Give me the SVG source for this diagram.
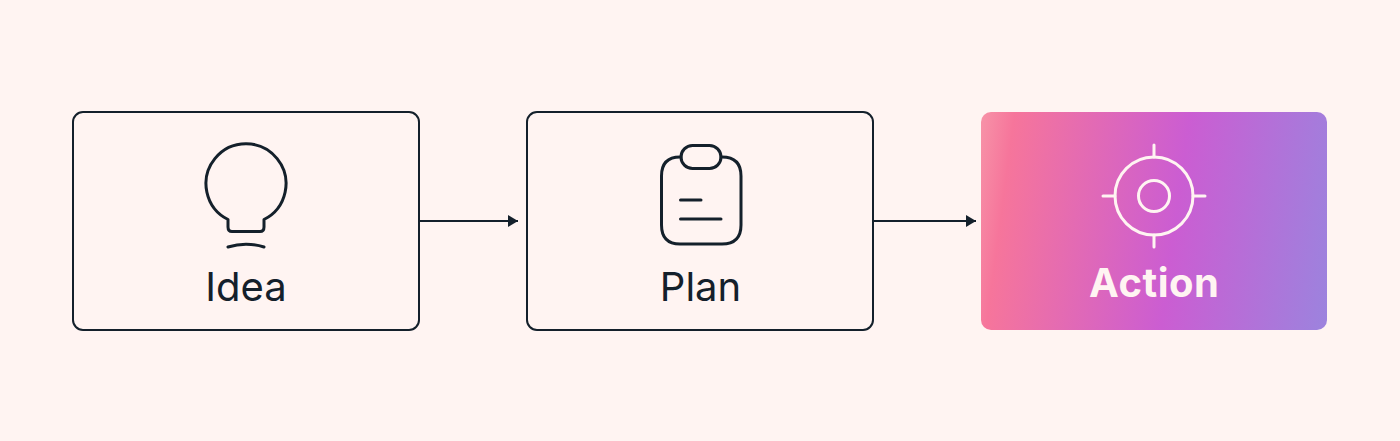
<svg xmlns="http://www.w3.org/2000/svg" width="1400" height="441" viewBox="0 0 1400 441">
<style>
.box{fill:#fff4f2;stroke:#14202b;stroke-width:2}
.ink{fill:none;stroke:#14202b;stroke-width:3;stroke-linecap:round;stroke-linejoin:round}
.lite{fill:none;stroke:#fff4f2;stroke-width:3;stroke-linecap:round}
.t{font-family:Inter,"Liberation Sans",sans-serif;font-size:40px;text-anchor:middle}
.conn{fill:none;stroke:#14202b;stroke-width:2}
</style>
<defs>
<linearGradient id="g" gradientUnits="userSpaceOnUse" x1="981" y1="112" x2="1349.500" y2="161">
<stop offset="0" stop-color="#f793a8"/>
<stop offset="0.09" stop-color="#f6759b"/>
<stop offset="0.557" stop-color="#cb5dd2"/>
<stop offset="1" stop-color="#9c83de"/>
</linearGradient>
<marker id="arrow" markerUnits="userSpaceOnUse" markerWidth="10" markerHeight="12" refX="10" refY="6" orient="auto"><path d="M0 0L10 6L0 12Z" fill="#14202b"/></marker>
</defs>
<rect width="1400" height="441" fill="#fff4f2"/>
<g id="connectors">
<path class="conn" d="M420 221H518" marker-end="url(#arrow)"/>
<path class="conn" d="M874 221H976" marker-end="url(#arrow)"/>
</g>
<g id="idea">
<rect class="box" x="73" y="112" width="346" height="218" rx="10"/>
<path class="ink" d="M228 219.500A40 40 0 1 1 264 219.500V227Q264 231.500 260 231.500H232Q228 231.500 228 227Z"/>
<path class="ink" d="M228 247Q246 241.500 264 247"/>
<text class="t" x="246" y="301" fill="#14202b">Idea</text>
</g>
<g id="plan">
<rect class="box" x="527" y="112" width="346" height="218" rx="10"/>
<path class="ink" d="M681 157H680Q661.500 157 661.500 176V225Q661.500 244 680 244H722Q741 244 741 225V176Q741 157 722 157H721"/>
<rect class="ink" x="681" y="145.500" width="40" height="23" rx="11.500"/>
<path class="ink" d="M680.500 200H701M680.500 219H721"/>
<text class="t" x="700.500" y="301" fill="#14202b">Plan</text>
</g>
<g id="action">
<rect x="981" y="112" width="346" height="218" rx="10" fill="url(#g)"/>
<circle class="lite" cx="1154" cy="196" r="39"/>
<circle class="lite" cx="1154" cy="196" r="15.500"/>
<path class="lite" d="M1154 145V157M1154 235V247M1103 196H1115M1193 196H1205"/>
<text class="t" x="1154.250" y="297" fill="#fff4f2" font-weight="700" letter-spacing="0.5">Action</text>
</g>
</svg>
